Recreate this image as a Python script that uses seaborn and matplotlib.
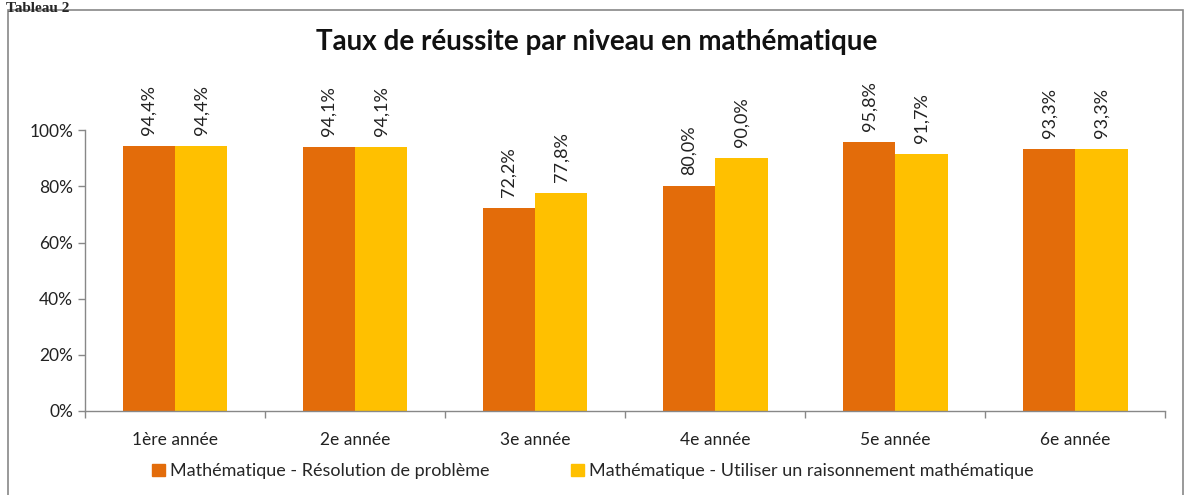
import pandas as pd
import matplotlib.pyplot as plt
import matplotlib.patches as mpatches
from matplotlib.ticker import FuncFormatter, FixedLocator
import seaborn as sns

# Données
niveaux = ["1ère année", "2e année", "3e année", "4e année", "5e année", "6e année"]
resolution = [94.4, 94.1, 72.2, 80.0, 95.8, 93.3]
raisonnement = [94.4, 94.1, 77.8, 90.0, 91.7, 93.3]
series = ["Mathématique - Résolution de problème",
          "Mathématique - Utiliser un raisonnement mathématique"]
couleurs = ["#E36C0A", "#FFC000"]

df = pd.DataFrame({
    "Niveau": niveaux * 2,
    "Taux": [v / 100 for v in resolution + raisonnement],
    "Serie": [series[0]] * len(niveaux) + [series[1]] * len(niveaux),
})

sns.set_theme(style="white")
plt.rcParams['font.family'] = ['Lato', 'DejaVu Sans']

fig = plt.figure(figsize=(11.86, 4.95), dpi=100)
ax = fig.add_axes([0.0717, 0.1697, 0.911, 0.567])

sns.barplot(data=df, x="Niveau", y="Taux", hue="Serie", palette=couleurs,
            width=0.58, gap=0, saturation=1, linewidth=0, ax=ax, legend=True)

ax.set_ylim(0, 1.0)
ax.set_xlim(-0.5, len(niveaux) - 0.5)
ax.yaxis.set_major_formatter(FuncFormatter(lambda v, _: f"{v*100:.0f}%"))
ax.set_yticks([0, 0.2, 0.4, 0.6, 0.8, 1.0])
ax.set_xlabel('')
ax.set_ylabel('')
ax.tick_params(axis='both', labelsize=12.5, colors='#222222')
ax.tick_params(axis='y', left=True, length=5, color='#888888', width=1)
ax.tick_params(axis='x', bottom=False, pad=9)
ax.xaxis.set_minor_locator(FixedLocator([i - 0.5 for i in range(len(niveaux) + 1)]))
ax.tick_params(axis='x', which='minor', bottom=True, length=5, color='#888888', width=1)

for side in ['top', 'right']:
    ax.spines[side].set_visible(False)
for side in ['left', 'bottom']:
    ax.spines[side].set_color('#888888')
    ax.spines[side].set_linewidth(1)

for cont in ax.containers:
    ax.bar_label(cont, labels=[f"{b.get_height()*100:.1f}%".replace('.', ',') for b in cont],
                 rotation=90, padding=8, fontsize=13, color='#222222')

# Légende
handles = [mpatches.Patch(color=c) for c in couleurs]
ax.get_legend().remove()
fig.legend(handles, series, loc='center', bbox_to_anchor=(0.5, 0.048), ncol=2,
           frameon=False, fontsize=13, handlelength=0.7, handleheight=0.7,
           handletextpad=0.3, columnspacing=4.5)

fig.text(0.503, 0.915, "Taux de réussite par niveau en mathématique",
         ha='center', va='center', fontsize=20, fontweight='bold', color='#111111')

# Cadre et titre
fig.patches.append(mpatches.Rectangle((0.0068, -0.01), 0.991, 0.99, transform=fig.transFigure,
                                      fill=False, edgecolor='#888888', linewidth=1.2))
fig.text(0.005, 0.983, "Tableau 2", ha='left', va='center', fontsize=11,
         fontweight='bold', family='Liberation Serif')

plt.savefig("out.png", dpi=100)
